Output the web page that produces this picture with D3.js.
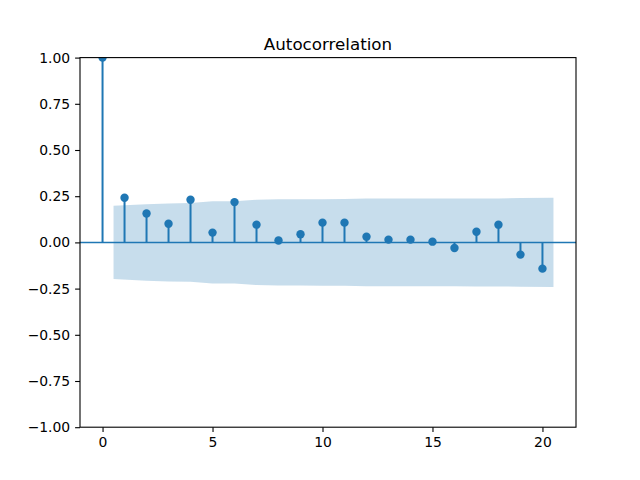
<!DOCTYPE html>
<html><head><meta charset="utf-8">
<script src="https://cdn.jsdelivr.net/npm/d3@7"></script>
<style>body{margin:0;background:#fff}svg{display:block;font-family:"DejaVu Sans",sans-serif}</style>
</head><body>
<svg id="c" width="640" height="480"></svg>
<script>
const lags = [0,1,2,3,4,5,6,7,8,9,10,11,12,13,14,15,16,17,18,19,20];
const acfValues = [1.0,0.242,0.156,0.101,0.231,0.053,0.218,0.096,0.010,0.044,0.107,0.107,0.031,0.015,0.015,0.004,-0.030,0.058,0.096,-0.066,-0.142];
const bandLags = [0.5,2,3,4,5,6,7,8,9,10,11,12,13,14,15,16,17,18,19,20.5];
const bandHalfWidth = [0.198,0.207,0.211,0.213,0.222,0.223,0.231,0.233,0.233,0.234,0.235,0.237,0.237,0.237,0.237,0.237,0.238,0.238,0.240,0.242];
const xTicks = [0,5,10,15,20];
const yTicks = [-1.0,-0.75,-0.5,-0.25,0.0,0.25,0.5,0.75,1.0];
const title = "Autocorrelation";

const L=80,R=576,T=57.6,B=427.2;
const blue="#1f77b4";
const svg=d3.select("#c");
const x=d3.scaleLinear().domain([-1.025,21.525]).range([L,R]);
const y=d3.scaleLinear().domain([-1,1]).range([B,T]);

svg.append("defs").append("clipPath").attr("id","clip").append("rect")
  .attr("x",L).attr("y",T).attr("width",R-L).attr("height",B-T);
const g=svg.append("g").attr("clip-path","url(#clip)");

const band=bandLags.map((l,i)=>({l,h:bandHalfWidth[i]}));
g.append("path").datum(band)
  .attr("d",d3.area().x(d=>x(d.l)).y0(d=>y(-d.h)).y1(d=>y(d.h)))
  .attr("fill",blue).attr("fill-opacity",0.25);

g.append("line").attr("x1",L).attr("x2",R).attr("y1",y(0)).attr("y2",y(0))
  .attr("stroke",blue).attr("stroke-width",1.5);

const pts=lags.map((l,i)=>({l,v:acfValues[i]}));
g.selectAll("line.stem").data(pts).enter().append("line").attr("class","stem")
  .attr("x1",d=>x(d.l)).attr("x2",d=>x(d.l)).attr("y1",y(0)).attr("y2",d=>y(d.v))
  .attr("stroke",blue).attr("stroke-width",2);
g.selectAll("circle").data(pts).enter().append("circle")
  .attr("cx",d=>x(d.l)).attr("cy",d=>y(d.v)).attr("r",4.2).attr("fill",blue);

const xa=svg.append("g").attr("transform",`translate(0,${B})`)
  .call(d3.axisBottom(x).tickValues(xTicks).tickFormat(d3.format("d")).tickSize(4.9).tickPadding(4.9));
const ya=svg.append("g").attr("transform",`translate(${L},0)`)
  .call(d3.axisLeft(y).tickValues(yTicks).tickFormat(d3.format(".2f")).tickSize(4.9).tickPadding(4.9));
[xa,ya].forEach(a=>{a.select(".domain").remove();a.selectAll("text").attr("font-size","13.9px").attr("fill","#000").attr("font-family","DejaVu Sans");a.selectAll("line").attr("stroke","#000").attr("stroke-width",1.1);});

svg.append("rect").attr("x",L).attr("y",T).attr("width",R-L).attr("height",B-T)
  .attr("fill","none").attr("stroke","#000").attr("stroke-width",1.1);

svg.append("text").attr("x",(L+R)/2).attr("y",T-8).attr("text-anchor","middle")
  .attr("font-size","16.7px").attr("fill","#000").text(title);
</script>
</body></html>
